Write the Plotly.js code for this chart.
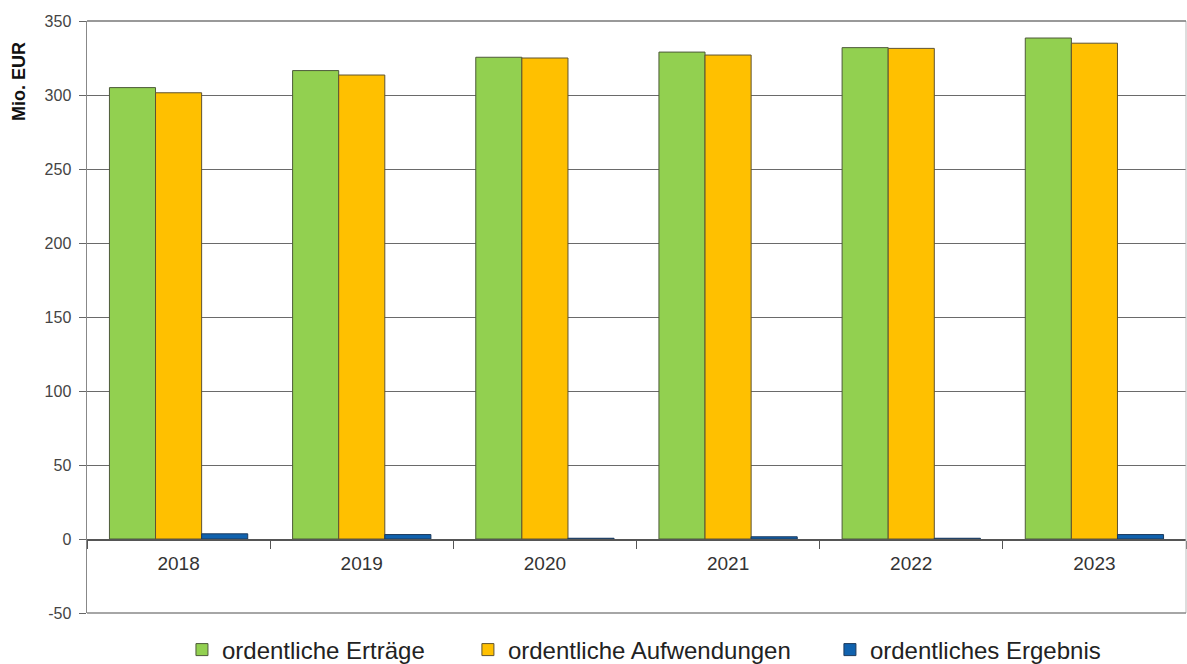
<!DOCTYPE html>
<html>
<head>
<meta charset="utf-8">
<script src="https://cdn.plot.ly/plotly-3.0.1.min.js"></script>
<style>html,body{margin:0;padding:0;background:#fff;}#chart{width:1187px;height:664px;}</style>
</head>
<body>
<div id="chart"></div>
<script>
const years = ['2018', '2019', '2020', '2021', '2022', '2023'];
const ertraege = [305, 316.5, 325.5, 329, 332, 338.5];
const aufwendungen = [301.5, 313.5, 325, 327, 331.5, 335];
const ergebnis = [3.5, 3.0, 0.5, 1.5, 0.5, 3.0];
const seriesNames = ['ordentliche Erträge', 'ordentliche Aufwendungen', 'ordentliches Ergebnis'];
const yTickVals = [-50, 0, 50, 100, 150, 200, 250, 300, 350];
const yTickLabels = ['-50', '0', '50', '100', '150', '200', '250', '300', '350'];
const FONT = 'Liberation Sans, Arial, sans-serif';

const traces = [
  {type:'bar', name:seriesNames[0], x:years, y:ertraege, legend:'legend',
   marker:{color:'#92D050', line:{color:'#4d5a3a', width:1}}},
  {type:'bar', name:seriesNames[1], x:years, y:aufwendungen, legend:'legend2',
   marker:{color:'#FFC000', line:{color:'#5f5330', width:1}}},
  {type:'bar', name:seriesNames[2], x:years, y:ergebnis, legend:'legend3',
   marker:{color:'#1062AE', line:{color:'#1d3a5c', width:1}}}
];

const legendBase = {orientation:'h', yanchor:'middle', y:-0.0625, xanchor:'left',
  font:{family:FONT, size:24, color:'#222'}, itemwidth:30, bgcolor:'rgba(0,0,0,0)'};

const layout = {
  width:1187, height:664,
  margin:{l:87, r:1, t:21, b:51, autoexpand:false},
  paper_bgcolor:'#fff', plot_bgcolor:'#fff',
  barmode:'group', bargap:0.245, bargroupgap:0,
  font:{family:FONT, color:'#333'},
  showlegend:true,
  legend:Object.assign({}, legendBase, {x:0.0864}),
  legend2:Object.assign({}, legendBase, {x:0.3466}),
  legend3:Object.assign({}, legendBase, {x:0.676}),
  xaxis:{type:'category', anchor:'free', position:0.125,
         showline:true, linecolor:'#555', linewidth:1.5,
         ticks:'outside', tickson:'boundaries', ticklen:8, tickcolor:'#555', tickwidth:1,
         ticklabelstandoff:7,
         tickfont:{family:FONT, size:19, color:'#333'}, showgrid:false, zeroline:false, fixedrange:true},
  yaxis:{range:[-50,350], tickmode:'array', tickvals:yTickVals, ticktext:yTickLabels,
         showline:true, linecolor:'#888', linewidth:1.5,
         ticks:'outside', ticklen:7, tickcolor:'#666', ticklabelstandoff:4,
         showgrid:true, gridcolor:'#6a6a6a', gridwidth:1, zeroline:false,
         tickfont:{family:FONT, size:16, color:'#444'}, fixedrange:true},
  annotations:[{text:'<b>Mio. EUR</b>', xref:'paper', yref:'paper', x:-0.0619, y:0.8986,
                showarrow:false, textangle:-90, font:{family:FONT, size:18, color:'#111'},
                xanchor:'center', yanchor:'middle'}],
  shapes:[
    {type:'line', xref:'paper', yref:'paper', x0:1, x1:1, y0:0, y1:1, line:{color:'#bbb', width:1}},
    {type:'line', xref:'paper', yref:'paper', x0:0, x1:1, y0:0, y1:0, line:{color:'#888', width:1.5}},
    {type:'line', xref:'paper', yref:'paper', x0:0, x1:1, y0:1, y1:1, line:{color:'#777', width:1.5}}
  ]
};

Plotly.newPlot('chart', traces, layout, {displayModeBar:false, staticPlot:true});
</script>
</body>
</html>
